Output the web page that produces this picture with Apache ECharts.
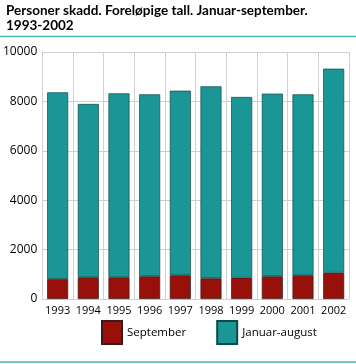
<!DOCTYPE html>
<html><head><meta charset="utf-8">
<script src="https://cdn.jsdelivr.net/npm/echarts@6/dist/echarts.min.js"></script>
<style>html,body{margin:0;padding:0;background:#fff}#c{width:356px;height:364px}</style>
</head><body><div id="c"></div>
<script>
const years = ['1993','1994','1995','1996','1997','1998','1999','2000','2001','2002'];
const september = [810, 878, 878, 919, 960, 838, 864, 919, 960, 1065];
const januarAugust = [7558, 7017, 7450, 7368, 7473, 7773, 7314, 7393, 7327, 8259];
const yTicks = [0, 2000, 4000, 6000, 8000, 10000];

const chart = echarts.init(document.getElementById('c'), null, {renderer:'canvas'});
const font = 'Lato, "DejaVu Sans", sans-serif';
const font2 = '"Open Sans", "DejaVu Sans", sans-serif';
chart.setOption({
  animation:false,
  title:{text:'Personer skadd. Foreløpige tall. Januar-september.\n1993-2002', left:1, top:-2,
    textStyle:{fontFamily:font, fontSize:13.5, fontWeight:'bold', color:'#000', lineHeight:15}},
  graphic:[
    {type:'line', shape:{x1:0,y1:36.5,x2:356,y2:36.5}, style:{stroke:'#4fb3b3', lineWidth:1.5}},
    {type:'line', shape:{x1:0,y1:362,x2:356,y2:362}, style:{stroke:'#4fb3b3', lineWidth:1.5}}
  ],
  legend:{bottom:14, left:96, itemWidth:20, itemHeight:23, itemGap:30, icon:'rect',
    textStyle:{fontFamily:font2, fontSize:11.5, color:'#000'},
    data:['September','Januar-august']},
  grid:{left:39, right:7, top:52, bottom:65},
  xAxis:{type:'category', data:years,
    axisLine:{show:false}, axisTick:{show:false},
    axisLabel:{fontFamily:font2, fontSize:11, color:'#000', margin:6, interval:0},
    splitLine:{show:true, lineStyle:{color:'#d0d0d0', width:1}}},
  yAxis:{type:'value', min:0, max:10000, interval:2000,
    axisLine:{show:true, lineStyle:{color:'#d0d0d0'}}, axisTick:{show:false},
    axisLabel:{fontFamily:font2, fontSize:12, color:'#000', margin:5,
      formatter:v => yTicks.includes(v) ? String(v) : ''},
    splitLine:{show:true, lineStyle:{color:'#d0d0d0', width:1}}},
  series:[
    {name:'September', type:'bar', stack:'a', data:september, barWidth:21,
     itemStyle:{color:'#971009', borderColor:'#3a1a1a', borderWidth:0.7}},
    {name:'Januar-august', type:'bar', stack:'a', data:januarAugust, barWidth:21,
     itemStyle:{color:'#1a9696', borderColor:'#0d4a4a', borderWidth:0.7}}
  ]
});
</script></body></html>
